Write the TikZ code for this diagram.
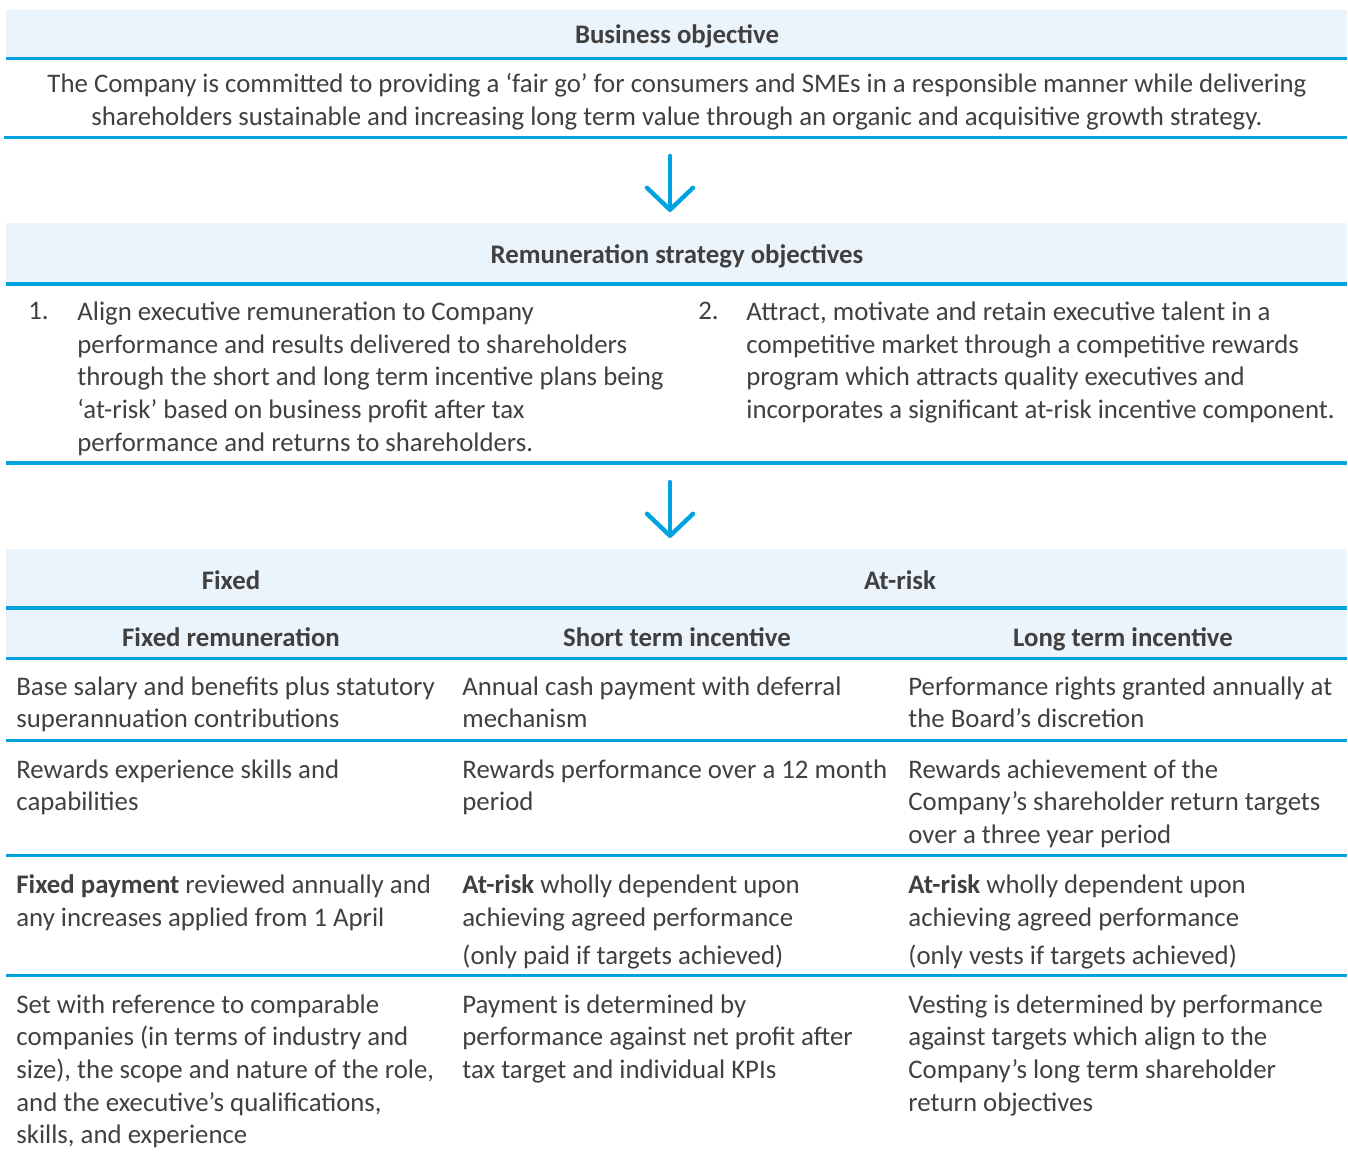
\documentclass[tikz,border=0pt]{standalone}
\usepackage{fontspec}
\setmainfont{Carlito}
\usetikzlibrary{arrows.meta,calc}
\definecolor{rmblue}{HTML}{00A3DF}
\definecolor{rmband}{HTML}{EBF4FB}
\definecolor{rmtext}{HTML}{404040}

\begin{document}
\begin{tikzpicture}[x=0.5pt,y=-0.5pt,inner sep=0pt,
  band/.style={fill=rmband,anchor=north west,minimum width=670.5pt},
  hd/.style={anchor=base,text=rmtext,font=\fontsize{13.4}{16.3}\selectfont\bfseries},
  txt/.style={anchor=north west,align=left,text=rmtext,font=\fontsize{13.4}{16.3}\selectfont,
    execute at begin node=\strut},
  para/.style={anchor=north,align=center,text=rmtext,font=\fontsize{13.4}{16.65}\selectfont,
    execute at begin node=\strut},
  rule/.style={draw=rmblue,line width=1.6pt},
  down/.style={draw=rmblue,line width=2.2pt,line cap=round,shorten >=5.5pt,
    -{Straight Barb[length=11pt,width=23pt,round]}}]
\useasboundingbox (0,0) rectangle (1348,1151);

% bands
\node [band,minimum height=23.5pt] (bandA) at (6,10) {};
\node [band,minimum height=30pt]   (bandB) at (6,223) {};
\node [band,minimum height=54pt]   (bandC) at (6,549) {};

% business objective
\node [hd] (bizhd) at (677,43) {Business objective};
\node [para] (biztxt) at (677,72.4) {The Company is committed to providing a ‘fair go’ for consumers and SMEs in a responsible manner while delivering\\
  shareholders sustainable and increasing long term value through an organic and acquisitive growth strategy.};
\draw [rule] (6,58.5) -- (1347,58.5);
\draw [rule] (4,137.5) -- (1347,137.5);

\coordinate (arrA) at (670,156);
\draw [down] (arrA) -- (arrA |- bandB.north);

% strategy objectives
\node [hd] (strathd) at (677,263.5) {Remuneration strategy objectives};
\draw [rule] (6,284) -- (1347,284);
\node [txt] (numA) at (28,296.7) {1.};
\node [txt] (objA) at (77,301.7) {Align executive remuneration to Company\\
  performance and results delivered to shareholders\\
  through the short and long term incentive plans being\\
  ‘at-risk’ based on business profit after tax\\
  performance and returns to shareholders.};
\node [txt] (numB) at (698,296.7) {2.};
\node [txt] (objB) at (746,301.7) {Attract, motivate and retain executive talent in a\\
  competitive market through a competitive rewards\\
  program which attracts quality executives and\\
  incorporates a significant at-risk incentive component.};
\draw [rule] (6,463) -- (1347,463);

\coordinate (arrB) at (670,482);
\draw [down] (arrB) -- (arrB |- bandC.north);

% table head
\node [hd] (fixhd)  at (231,589) {Fixed};
\node [hd] (riskhd) at (900,589) {At-risk};
\draw [rule] (6,608) -- (1347,608);
\node [hd] (colA) at (231,646) {Fixed remuneration};
\node [hd] (colB) at (677,646) {Short term incentive};
\node [hd] (colC) at (1123,646) {Long term incentive};
\draw [rule] (6,658.5) -- (1347,658.5);

% table rows
\node [txt] (rowAa) at (16,676.2) {Base salary and benefits plus statutory\\superannuation contributions};
\node [txt] (rowAb) at (462,676.2) {Annual cash payment with deferral\\mechanism};
\node [txt] (rowAc) at (908,676.2) {Performance rights granted annually at\\the Board’s discretion};
\draw [rule] (6,740.5) -- (1347,740.5);

\node [txt] (rowBa) at (16,759.2) {Rewards experience skills and\\capabilities};
\node [txt] (rowBb) at (462,759.2) {Rewards performance over a 12 month\\period};
\node [txt] (rowBc) at (908,759.2) {Rewards achievement of the\\Company’s shareholder return targets\\over a three year period};
\draw [rule] (6,855.5) -- (1347,855.5);

\node [txt] (rowCa) at (16,874.2) {\textbf{Fixed payment} reviewed annually and\\any increases applied from 1 April};
\node [txt] (rowCb) at (462,874.2) {\textbf{At-risk} wholly dependent upon\\achieving agreed performance\\[2.7pt](only paid if targets achieved)};
\node [txt] (rowCc) at (908,874.2) {\textbf{At-risk} wholly dependent upon\\achieving agreed performance\\[2.7pt](only vests if targets achieved)};
\draw [rule] (6,975.5) -- (1347,975.5);

\node [txt] (rowDa) at (16,994.2) {Set with reference to comparable\\companies (in terms of industry and\\size), the scope and nature of the role,\\and the executive’s qualifications,\\skills, and experience};
\node [txt] (rowDb) at (462,994.2) {Payment is determined by\\performance against net profit after\\tax target and individual KPIs};
\node [txt] (rowDc) at (908,994.2) {Vesting is determined by performance\\against targets which align to the\\Company’s long term shareholder\\return objectives};
\end{tikzpicture}
\end{document}
